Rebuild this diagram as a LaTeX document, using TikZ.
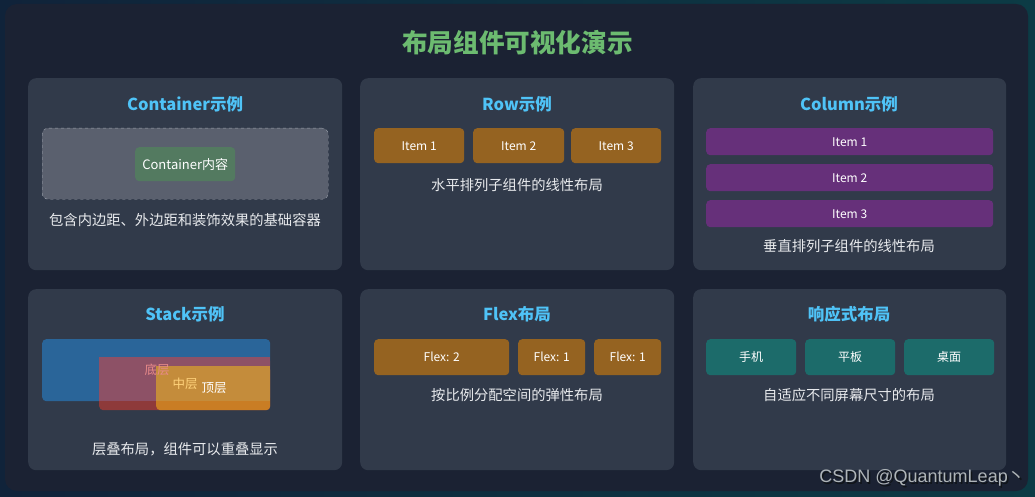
\documentclass[tikz,border=0pt]{standalone}
\usepackage{fontspec}
\setmainfont{Noto Sans CJK SC}
\newfontfamily\wmfont{Liberation Sans}
\newfontfamily\cjk{Noto Sans CJK SC}
\definecolor{bgA}{HTML}{10233A}
\definecolor{bgB}{HTML}{0C3B45}
\definecolor{panelc}{HTML}{1B2233}
\definecolor{cardc}{HTML}{313A4A}
\definecolor{titlec}{HTML}{6CBB70}
\definecolor{headc}{HTML}{4FC3F7}
\definecolor{capc}{HTML}{E8EAED}
\definecolor{dashbox}{HTML}{5A606E}
\definecolor{dashline}{HTML}{A0A6B0}
\definecolor{greenc}{HTML}{537A60}
\definecolor{brownc}{HTML}{956321}
\definecolor{purplec}{HTML}{66307A}
\definecolor{tealc}{HTML}{1C6B6A}
\definecolor{bluec}{HTML}{2A6599}
\definecolor{redc}{HTML}{8E3A3A}
\definecolor{redblue}{HTML}{8D5166}
\definecolor{orangec}{HTML}{C97D24}
\definecolor{orangeblue}{HTML}{C48C3B}
\definecolor{txtbottom}{HTML}{E88A8A}
\definecolor{txtmid}{HTML}{FFD27A}
\definecolor{wmc}{HTML}{AEB4B8}
\definecolor{wmshadow}{HTML}{101418}
\tikzset{
  card/.style={fill=cardc, rounded corners=8pt, anchor=north west, inner sep=0pt},
  box/.style={rounded corners=4pt, anchor=north west, inner sep=0pt, text=white,
     font=\fontsize{12}{14}\selectfont},
  head/.style={text=headc, font=\fontsize{16.5}{19}\selectfont\bfseries},
  captxt/.style={text=capc, font=\fontsize{14.3}{17}\selectfont},
}
\begin{document}
\begin{tikzpicture}[x=1pt,y=-1pt]
\useasboundingbox (0,0) rectangle (1035,497);
\shade[left color=bgA, right color=bgB] (0,0) rectangle (1035,497);
\fill[panelc, rounded corners=12pt] (5,4) rectangle (1028,491);
\node[text=titlec, font=\fontsize{25.6}{28}\selectfont\bfseries] (title) at (517.5,43) {布局组件可视化演示};

% cards
\node[card, minimum width=314pt, minimum height=192pt] (c1) at (28,78) {};
\node[card, minimum width=314pt, minimum height=192pt] (c2) at (360,78) {};
\node[card, minimum width=313pt, minimum height=192pt] (c3) at (693,78) {};
\node[card, minimum width=314pt, minimum height=181pt] (c4) at (28,289) {};
\node[card, minimum width=314pt, minimum height=181pt] (c5) at (360,289) {};
\node[card, minimum width=313pt, minimum height=181pt] (c6) at (693,289) {};

% Container
\node[head] (h1) at (185,104) {Container示例};
\node[anchor=north west, inner sep=0pt, fill=dashbox, draw=dashline, dashed, rounded corners=6pt,
  minimum width=286pt, minimum height=71pt] (cbox) at (42,128) {};
\node[box, fill=greenc, minimum width=100pt, minimum height=34pt,
  font=\fontsize{13}{15}\selectfont] (cin) at (135,147) {Container内容};
\node[captxt] (cap1) at (185,220) {包含内边距、外边距和装饰效果的基础容器};

% Row
\node[head] (h2) at (517,104) {Row示例};
\node[box, fill=brownc, minimum width=90pt, minimum height=35pt] (r1) at (374,128) {Item 1};
\node[box, fill=brownc, minimum width=91pt, minimum height=35pt] (r2) at (473,128) {Item 2};
\node[box, fill=brownc, minimum width=90pt, minimum height=35pt] (r3) at (571,128) {Item 3};
\node[captxt] (cap2) at (517,185) {水平排列子组件的线性布局};

% Column
\node[head] (h3) at (849,104) {Column示例};
\node[box, fill=purplec, minimum width=287pt, minimum height=27pt] (k1) at (706,128) {Item 1};
\node[box, fill=purplec, minimum width=287pt, minimum height=27pt] (k2) at (706,164) {Item 2};
\node[box, fill=purplec, minimum width=287pt, minimum height=27pt] (k3) at (706,200) {Item 3};
\node[captxt] (cap3) at (849,246) {垂直排列子组件的线性布局};

% Stack
\node[head] (h4) at (185,314) {Stack示例};
\node[box, fill=bluec, minimum width=228pt, minimum height=62pt] (sb) at (42,339) {};
\node[box, fill=redc, minimum width=171pt, minimum height=53pt] (sr) at (99,357) {};
\fill[redblue] (99,357) rectangle (270,401);
\node[box, fill=orangec, minimum width=114pt, minimum height=44pt] (so) at (156,366) {};
\fill[orangeblue] (156,366) rectangle (270,401);
\node[text=txtbottom, font=\fontsize{12.5}{14}\selectfont] (t1) at (157,370) {底层};
\node[text=txtmid, font=\fontsize{12.5}{14}\selectfont] (t2) at (185,384) {中层};
\node[text=white, font=\fontsize{12.5}{14}\selectfont] (t3) at (214,388) {顶层};
\node[captxt] (cap4) at (185,449) {层叠布局，组件可以重叠显示};

% Flex
\node[head] (h5) at (517,314) {Flex布局};
\node[box, fill=brownc, minimum width=135pt, minimum height=36pt] (f1) at (374,339) {Flex: 2};
\node[box, fill=brownc, minimum width=67pt, minimum height=36pt] (f2) at (518,339) {Flex: 1};
\node[box, fill=brownc, minimum width=67pt, minimum height=36pt] (f3) at (594,339) {Flex: 1};
\node[captxt] (cap5) at (517,395) {按比例分配空间的弹性布局};

% Responsive
\node[head] (h6) at (849,314) {响应式布局};
\node[box, fill=tealc, minimum width=90pt, minimum height=36pt] (p1) at (706,339) {手机};
\node[box, fill=tealc, minimum width=90pt, minimum height=36pt] (p2) at (805,339) {平板};
\node[box, fill=tealc, minimum width=90pt, minimum height=36pt] (p3) at (904,339) {桌面};
\node[captxt] (cap6) at (849,395) {自适应不同屏幕尺寸的布局};

% watermark
\node[anchor=east, text=wmshadow, font=\wmfont\fontsize{18}{20}\selectfont, inner sep=0pt] (wms) at (1027.5,479.5) {CSDN @QuantumLeap{\cjk 丶}};
\node[anchor=east, text=wmc, font=\wmfont\fontsize{18}{20}\selectfont, inner sep=0pt] (wm) at (1026,478) {CSDN @QuantumLeap{\cjk 丶}};
\end{tikzpicture}
\end{document}
